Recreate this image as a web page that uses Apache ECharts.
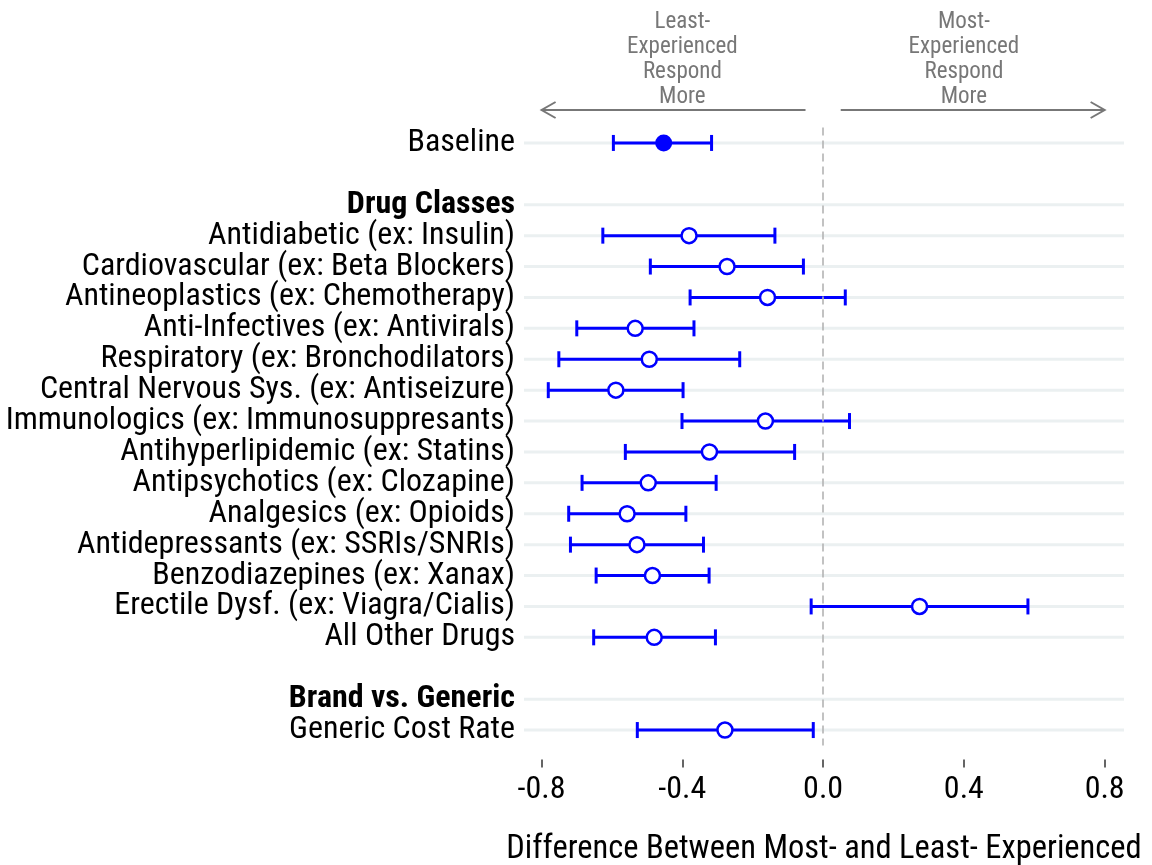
<!DOCTYPE html>
<html>
<head>
<meta charset="utf-8">
<script src="https://cdn.jsdelivr.net/npm/echarts@6/dist/echarts.min.js"></script>
<style>
  html, body { margin: 0; padding: 0; background: #ffffff; }
  #chart { width: 1152px; height: 865px; }
</style>
</head>
<body>
<div id="chart"></div>
<script>
// Row labels, top to bottom (blank rows act as spacers between groups)
const rowLabels = [
  'Baseline',
  ' ',
  'Drug Classes',
  'Antidiabetic (ex: Insulin)',
  'Cardiovascular (ex: Beta Blockers)',
  'Antineoplastics (ex: Chemotherapy)',
  'Anti-Infectives (ex: Antivirals)',
  'Respiratory (ex: Bronchodilators)',
  'Central Nervous Sys. (ex: Antiseizure)',
  'Immunologics (ex: Immunosuppresants)',
  'Antihyperlipidemic (ex: Statins)',
  'Antipsychotics (ex: Clozapine)',
  'Analgesics (ex: Opioids)',
  'Antidepressants (ex: SSRIs/SNRIs)',
  'Benzodiazepines (ex: Xanax)',
  'Erectile Dysf. (ex: Viagra/Cialis)',
  'All Other Drugs',
  '  ',
  'Brand vs. Generic',
  'Generic Cost Rate'
];
const headerRows = ['Drug Classes', 'Brand vs. Generic'];
const filledRows = ['Baseline'];

// Point estimates and confidence bounds per row (null = no estimate)
const estimate = [-0.453, null, null, -0.381, -0.273, -0.158, -0.534, -0.494, -0.589, -0.164, -0.323, -0.497, -0.557, -0.529, -0.485, 0.274, -0.480, null, null, -0.279];
const lower    = [-0.596, null, null, -0.626, -0.491, -0.378, -0.700, -0.751, -0.781, -0.401, -0.562, -0.685, -0.723, -0.718, -0.645, -0.034, -0.652, null, null, -0.528];
const upper    = [-0.317, null, null, -0.137, -0.056, 0.063, -0.367, -0.237, -0.398, 0.075, -0.081, -0.304, -0.390, -0.340, -0.324, 0.582, -0.306, null, null, -0.028];

const xTicks = [-0.8, -0.4, 0, 0.4, 0.8];
const xTitle = 'Difference Between Most- and Least- Experienced';
const leftNote = 'Least-\nExperienced\nRespond\nMore';
const rightNote = 'Most-\nExperienced\nRespond\nMore';

const FONT = '"Roboto Condensed", "Liberation Sans Narrow", "Arial Narrow", sans-serif';
const BLUE = '#0000ff';

const gridRows = [];
const barData = [];
const hollowPts = [];
const filledPts = [];
rowLabels.forEach((lab, i) => {
  if (lab.trim() !== '') gridRows.push([0, i]);
  if (estimate[i] !== null) {
    barData.push([lower[i], upper[i], i]);
    if (filledRows.includes(lab)) filledPts.push([estimate[i], i]);
    else hollowPts.push([estimate[i], i]);
  }
});

const chart = echarts.init(document.getElementById('chart'), null, { renderer: 'canvas' });

const option = {
  animation: false,
  backgroundColor: '#ffffff',
  grid: { left: 524, right: 28, top: 127.5, bottom: 119.5, containLabel: false, outerBoundsMode: 'none' },
  xAxis: {
    type: 'value',
    min: -0.85,
    max: 0.855,
    offset: 14,
    axisLine: { show: false },
    splitLine: { show: false },
    axisTick: {
      show: true, length: 8, customValues: xTicks,
      lineStyle: { color: '#333333', width: 1.5 }
    },
    axisLabel: {
      customValues: xTicks,
      formatter: v => v.toFixed(1),
      fontFamily: FONT, fontSize: 32, color: '#000000', margin: 14
    },
    name: xTitle,
    nameLocation: 'middle',
    nameGap: 74,
    nameTextStyle: { fontFamily: FONT, fontSize: 32.5, color: '#000000' }
  },
  yAxis: {
    type: 'category',
    data: rowLabels,
    inverse: true,
    axisLine: { show: false },
    axisTick: { show: false },
    splitLine: { show: false },
    axisLabel: {
      margin: 9,
      interval: 0,
      fontFamily: FONT,
      fontSize: 32,
      color: '#000000',
      formatter: v => headerRows.includes(v) ? '{b|' + v + '}' : v.trim(),
      rich: {
        b: { fontFamily: FONT, fontSize: 32, fontWeight: 'bold', color: '#000000' }
      }
    }
  },
  series: [
    {
      // light horizontal guide for each labelled row
      type: 'custom',
      z: 1,
      silent: true,
      data: gridRows,
      encode: { x: 0, y: 1 },
      renderItem: (params, api) => {
        const y = api.coord([0, api.value(1)])[1];
        const cs = params.coordSys;
        return {
          type: 'line',
          shape: { x1: cs.x, y1: y, x2: cs.x + cs.width, y2: y },
          style: { stroke: '#ebf0f1', lineWidth: 3 }
        };
      }
    },
    {
      // dashed reference at zero
      type: 'scatter',
      z: 2,
      data: [],
      markLine: {
        silent: true,
        symbol: 'none',
        label: { show: false },
        lineStyle: { type: [8, 5], color: '#b3b3b3', width: 1.6 },
        data: [{ xAxis: 0 }]
      }
    },
    {
      // confidence intervals with end caps
      type: 'custom',
      z: 3,
      silent: true,
      data: barData,
      encode: { x: [0, 1], y: 2 },
      renderItem: (params, api) => {
        const a = api.coord([api.value(0), api.value(2)]);
        const b = api.coord([api.value(1), api.value(2)]);
        const h = 8;
        const st = { stroke: BLUE, lineWidth: 3 };
        return {
          type: 'group',
          children: [
            { type: 'line', shape: { x1: a[0], y1: a[1], x2: b[0], y2: b[1] }, style: st },
            { type: 'line', shape: { x1: a[0], y1: a[1] - h, x2: a[0], y2: a[1] + h }, style: st },
            { type: 'line', shape: { x1: b[0], y1: b[1] - h, x2: b[0], y2: b[1] + h }, style: st }
          ]
        };
      }
    },
    {
      type: 'scatter',
      z: 4,
      silent: true,
      symbol: 'circle',
      symbolSize: 15,
      itemStyle: { color: '#ffffff', borderColor: BLUE, borderWidth: 2.5, opacity: 1 },
      data: hollowPts
    },
    {
      type: 'scatter',
      z: 4,
      silent: true,
      symbol: 'circle',
      symbolSize: 17,
      itemStyle: { color: BLUE, opacity: 1 },
      data: filledPts
    }
  ]
};

chart.setOption(option);

// Direction arrows and notes above the panel
function drawNotes() {
  const px = v => chart.convertToPixel({ xAxisIndex: 0 }, v);
  const ay = 110;
  const grey = '#777777';
  const headLen = 14, headHalf = 8;
  const lStart = px(-0.05), lEnd = px(-0.8);
  const rStart = px(0.05), rEnd = px(0.8);
  const lineStyle = { stroke: grey, lineWidth: 2, fill: null };
  const textStyle = (txt, x) => ({
    text: txt, x: x, y: 10, align: 'center', verticalAlign: 'top',
    fontFamily: FONT, fontSize: 23, lineHeight: 25, fill: grey
  });
  chart.setOption({
    graphic: [
      { type: 'line', shape: { x1: lStart, y1: ay, x2: lEnd, y2: ay }, style: lineStyle, silent: true },
      { type: 'polyline', shape: { points: [[lEnd + headLen, ay - headHalf], [lEnd, ay], [lEnd + headLen, ay + headHalf]] }, style: lineStyle, silent: true },
      { type: 'line', shape: { x1: rStart, y1: ay, x2: rEnd, y2: ay }, style: lineStyle, silent: true },
      { type: 'polyline', shape: { points: [[rEnd - headLen, ay - headHalf], [rEnd, ay], [rEnd - headLen, ay + headHalf]] }, style: lineStyle, silent: true },
      { type: 'text', style: textStyle(leftNote, px(-0.4)), silent: true },
      { type: 'text', style: textStyle(rightNote, px(0.4)), silent: true }
    ]
  });
}
drawNotes();
</script>
</body>
</html>
